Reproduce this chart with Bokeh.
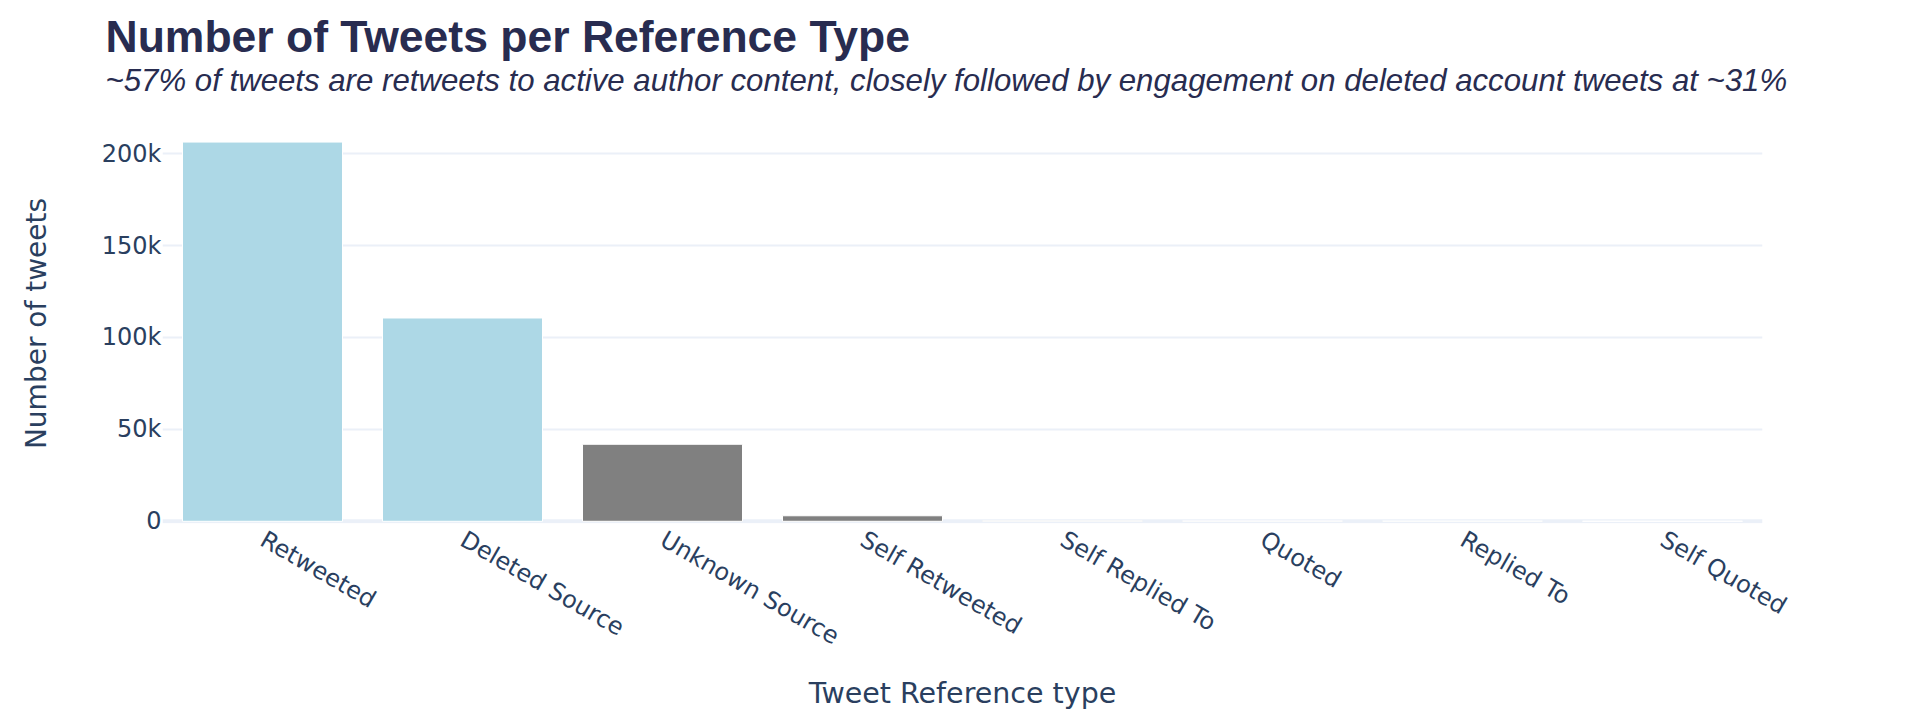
from bokeh.plotting import figure
from bokeh.models import FactorRange, Range1d, FixedTicker, Span, Title, ColumnDataSource
from bokeh.embed import file_html
from bokeh.resources import INLINE
import math

# ---- data ----
categories = ["Retweeted", "Deleted Source", "Unknown Source", "Self Retweeted",
              "Self Replied To", "Quoted", "Replied To", "Self Quoted"]
tweet_counts = [206300, 110600, 41900, 3000, 300, 150, 100, 60]
bar_colors = ["#ADD8E6", "#ADD8E6", "#808080", "#808080",
              "#808080", "#808080", "#808080", "#808080"]
y_tick_values = [0, 50000, 100000, 150000, 200000]
y_tick_labels = ["0", "50k", "100k", "150k", "200k"]

title_text = "Number of Tweets per Reference Type"
subtitle_text = ("~57% of tweets are retweets to active author content, closely followed "
                 "by engagement on deleted account tweets at ~31%")
x_title = "Tweet Reference type"
y_title = "Number of tweets"

TEXT = "#2a3f5f"
TITLE = "#282c50"
GRID = "#EBF0F8"

src = ColumnDataSource(dict(cat=categories, val=tweet_counts, color=bar_colors))

p = figure(width=1920, height=728, x_range=FactorRange(factors=categories),
           y_range=Range1d(-1200, 216400), output_backend="svg", toolbar_location=None,
           min_border_left=162, min_border_right=158, min_border_top=123,
           min_border_bottom=205, title=None)
p.x_range.range_padding = 0
p.background_fill_color = "white"
p.border_fill_color = "white"
p.outline_line_color = None

# zero line
p.add_layout(Span(location=0, dimension="width", line_color=GRID, line_width=4, level="underlay"))

p.vbar(x="cat", top="val", bottom=0, width=0.8, fill_color="color", line_color="white",
       line_width=1, source=src)

# grids
p.xgrid.grid_line_color = None
p.ygrid.grid_line_color = GRID
p.ygrid.grid_line_width = 2
p.ygrid.ticker = FixedTicker(ticks=y_tick_values[1:])

# y axis
p.yaxis.ticker = FixedTicker(ticks=y_tick_values)
p.yaxis.major_label_overrides = {v: l for v, l in zip(y_tick_values, y_tick_labels)}
p.yaxis.axis_line_color = None
p.yaxis.major_tick_line_color = None
p.yaxis.minor_tick_line_color = None
p.yaxis.major_tick_out = 0
p.yaxis.major_tick_in = 0
p.yaxis.major_label_standoff = 1
p.yaxis.major_label_text_font = "DejaVu Sans"
p.yaxis.major_label_text_font_size = "24px"
p.yaxis.major_label_text_color = TEXT
p.yaxis.axis_label = y_title
p.yaxis.axis_label_text_font = "DejaVu Sans"
p.yaxis.axis_label_text_font_size = "28px"
p.yaxis.axis_label_text_font_style = "normal"
p.yaxis.axis_label_text_color = TEXT
p.yaxis.axis_label_standoff = 46

# x axis
p.xaxis.axis_line_color = None
p.xaxis.major_tick_line_color = None
p.xaxis.minor_tick_line_color = None
p.xaxis.major_tick_out = 0
p.xaxis.major_tick_in = 0
p.xaxis.major_label_standoff = 14
p.xaxis.major_label_orientation = -math.pi / 6
p.xaxis.major_label_text_font = "DejaVu Sans"
p.xaxis.major_label_text_font_size = "24px"
p.xaxis.major_label_text_color = TEXT
p.xaxis.axis_label = x_title
p.xaxis.axis_label_text_font = "DejaVu Sans"
p.xaxis.axis_label_text_font_size = "28.5px"
p.xaxis.axis_label_text_font_style = "normal"
p.xaxis.axis_label_text_color = TEXT
p.xaxis.axis_label_standoff = 12

# titles: subtitle added first (closest to the plot), then the main title above it
p.add_layout(Title(text=subtitle_text, align="left", offset=-57, standoff=51,
                   text_font="Liberation Sans", text_font_style="italic",
                   text_font_size="31.2px", text_color=TITLE), "above")
p.add_layout(Title(text=title_text, align="left", offset=-57, standoff=-50,
                   text_font="Liberation Sans", text_font_style="bold",
                   text_font_size="44.5px", text_color=TITLE), "above")

open("out.html", "w").write(file_html(p, INLINE))
